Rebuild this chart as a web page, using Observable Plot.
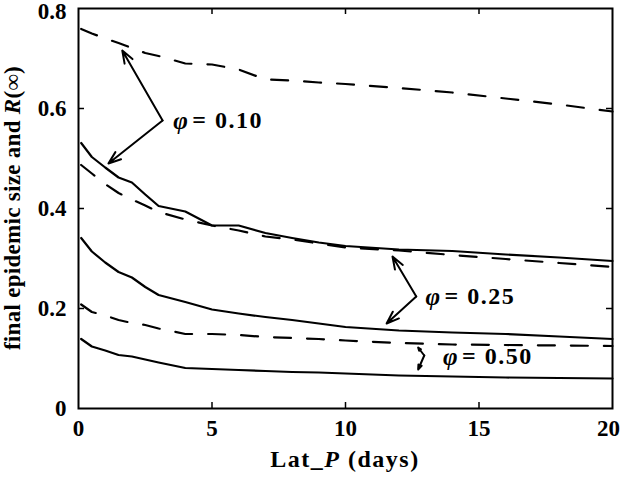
<!DOCTYPE html>
<html>
<head>
<meta charset="utf-8">
<script src="https://cdn.jsdelivr.net/npm/d3@7"></script>
<script src="https://cdn.jsdelivr.net/npm/@observablehq/plot@0.6"></script>
<style>
  html, body { margin: 0; padding: 0; background: #fff; }
  #chart svg { display: block; }
  #chart svg, #chart svg text { font-family: "Liberation Serif", "Times New Roman", serif !important; }
</style>
</head>
<body>
<div id="chart"></div>
<script>
// Lat_P (days) sample points
const latP = [0.1, 0.5, 1, 1.5, 2, 2.5, 3, 4, 5, 6, 7, 8, 9, 10, 12, 14, 16, 18, 20];

// dashed curves
const dashedPhi010 = [0.759, 0.750, 0.740, 0.731, 0.721, 0.711, 0.705, 0.690, 0.688, 0.678, 0.658, 0.656, 0.652, 0.649, 0.641, 0.632, 0.620, 0.608, 0.594];
const dashedPhi025 = [0.487, 0.470, 0.449, 0.431, 0.418, 0.406, 0.393, 0.378, 0.366, 0.356, 0.344, 0.338, 0.330, 0.322, 0.316, 0.307, 0.299, 0.291, 0.283];
const dashedPhi050 = [0.208, 0.193, 0.186, 0.177, 0.171, 0.167, 0.160, 0.149, 0.149, 0.147, 0.143, 0.141, 0.139, 0.136, 0.131, 0.128, 0.127, 0.126, 0.125];

// solid curves
const solidPhi010 = [0.531, 0.503, 0.482, 0.462, 0.452, 0.428, 0.405, 0.394, 0.366, 0.366, 0.351, 0.341, 0.332, 0.325, 0.318, 0.315, 0.308, 0.302, 0.295];
const solidPhi025 = [0.341, 0.314, 0.292, 0.273, 0.262, 0.243, 0.227, 0.213, 0.198, 0.190, 0.183, 0.177, 0.170, 0.163, 0.156, 0.152, 0.149, 0.144, 0.139];
const solidPhi050 = [0.139, 0.124, 0.116, 0.107, 0.104, 0.098, 0.092, 0.081, 0.079, 0.077, 0.075, 0.073, 0.072, 0.070, 0.066, 0.064, 0.062, 0.061, 0.060];

// axis ticks
const xTicks = [0, 5, 10, 15, 20];
const yTicks = [0, 0.2, 0.4, 0.6, 0.8];
const yTickLabels = ["0", "0.2", "0.4", "0.6", "0.8"];

// annotations (data coordinates)
const annLabels = ["0.10", "0.25", "0.50"];
const annTextX = [3.55, 13.0, 13.65];
const annTextY = [0.576, 0.224, 0.104];
const arrowFromX = [3.15, 3.15, 12.65, 12.65, 12.95, 12.95];
const arrowFromY = [0.576, 0.576, 0.224, 0.224, 0.106, 0.106];
const arrowToX = [1.64, 1.12, 11.76, 11.54, 12.72, 12.72];
const arrowToY = [0.716, 0.490, 0.304, 0.170, 0.122, 0.078];

const toRows = (name, ys) => ys.map((y, i) => ({series: name, x: latP[i], y}));
const dashedRows = [
  ...toRows("d010", dashedPhi010),
  ...toRows("d025", dashedPhi025),
  ...toRows("d050", dashedPhi050)
];
const solidRows = [
  ...toRows("s010", solidPhi010),
  ...toRows("s025", solidPhi025),
  ...toRows("s050", solidPhi050)
];
const arrows = arrowFromX.map((x1, i) => ({x1, y1: arrowFromY[i], x2: arrowToX[i], y2: arrowToY[i]}));
const anns = annLabels.map((t, i) => ({t: "= " + t, x: annTextX[i], y: annTextY[i]}));

const W = 620, H = 483;
const mL = 78, mR = 8, mT = 8, mB = 75;
const innerH = H - mT - mB;
const SERIF = "Liberation Serif, Times New Roman, serif";

const chart = Plot.plot({
  width: W,
  height: H,
  marginLeft: mL,
  marginRight: mR,
  marginTop: mT,
  marginBottom: mB,
  x: {domain: [0, 20]},
  y: {domain: [0, 0.8]},
  style: {fontFamily: SERIF, fontSize: "23px", fontWeight: "bold", color: "#000", background: "#fff"},
  marks: [
    Plot.axisX(xTicks.slice(0, -1), {tickSize: 0, tickPadding: 11, label: null, fontSize: 23, fontWeight: "bold"}),
    Plot.axisX(xTicks.slice(-1), {tickSize: 0, tickPadding: 11, label: null, fontSize: 23, fontWeight: "bold", dx: -4}),
    Plot.axisY(yTicks.slice(0, -1), {tickSize: 0, tickPadding: 12, label: null, fontSize: 23, fontWeight: "bold",
      tickFormat: (d) => yTickLabels[yTicks.indexOf(d)]}),
    Plot.axisY(yTicks.slice(-1), {tickSize: 0, tickPadding: 12, label: null, fontSize: 23, fontWeight: "bold", dy: 3,
      tickFormat: (d) => yTickLabels[yTicks.indexOf(d)]}),
    // inward ticks on all four sides
    Plot.tickX(xTicks.slice(1, -1), {x: (d) => d, insetTop: innerH - 6, stroke: "#000", strokeWidth: 1.5}),
    Plot.tickX(xTicks.slice(1, -1), {x: (d) => d, insetBottom: innerH - 6, stroke: "#000", strokeWidth: 1.5}),
    Plot.tickY(yTicks.slice(1, -1), {y: (d) => d, insetRight: (W - mL - mR) - 6, stroke: "#000", strokeWidth: 1.5}),
    Plot.tickY(yTicks.slice(1, -1), {y: (d) => d, insetLeft: (W - mL - mR) - 6, stroke: "#000", strokeWidth: 1.5}),
    Plot.line(dashedRows, {x: "x", y: "y", z: "series", stroke: "#000", strokeWidth: 2.2, strokeDasharray: "17,16"}),
    Plot.line(solidRows, {x: "x", y: "y", z: "series", stroke: "#000", strokeWidth: 2.2}),
    Plot.arrow(arrows, {x1: "x1", y1: "y1", x2: "x2", y2: "y2", stroke: "#000", strokeWidth: 2, headLength: 10, headAngle: 40}),
    Plot.text(anns, {x: "x", y: "y", text: () => "φ", textAnchor: "start", fontSize: 25, fontStyle: "italic", fontWeight: "bold", fill: "#000", fontFamily: SERIF}),
    Plot.text(anns, {x: "x", y: "y", text: "t", textAnchor: "start", dx: 19, fontSize: 24, fontWeight: "bold", fill: "#000", fontFamily: SERIF}),
    Plot.frame({stroke: "#000", strokeWidth: 2})
  ]
});

const svg = d3.select(chart);
// widen annotation lettering slightly, as in the reference
svg.selectAll('g[aria-label="text"] text').style("letter-spacing", "1.5px");

// x axis label
const xl = svg.append("text")
  .attr("x", mL + (W - mL - mR) / 2)
  .attr("y", 467)
  .attr("text-anchor", "middle")
  .attr("font-family", SERIF)
  .attr("font-size", 24)
  .attr("font-weight", "bold")
  .style("letter-spacing", "1.5px")
  .attr("fill", "#000");
xl.append("tspan").text("Lat_");
xl.append("tspan").attr("font-style", "italic").text("P");
xl.append("tspan").text(" (days)");

// y axis label
const yl = svg.append("text")
  .attr("transform", `translate(20,${mT + innerH / 2}) rotate(-90)`)
  .attr("text-anchor", "middle")
  .attr("font-family", SERIF)
  .attr("font-size", 23)
  .attr("font-weight", "bold")
  .style("letter-spacing", "0.3px")
  .attr("fill", "#000");
yl.append("tspan").text("final epidemic size and ");
yl.append("tspan").attr("font-style", "italic").text("R");
yl.append("tspan").text("(∞)");

document.getElementById("chart").appendChild(chart);
</script>
</body>
</html>
